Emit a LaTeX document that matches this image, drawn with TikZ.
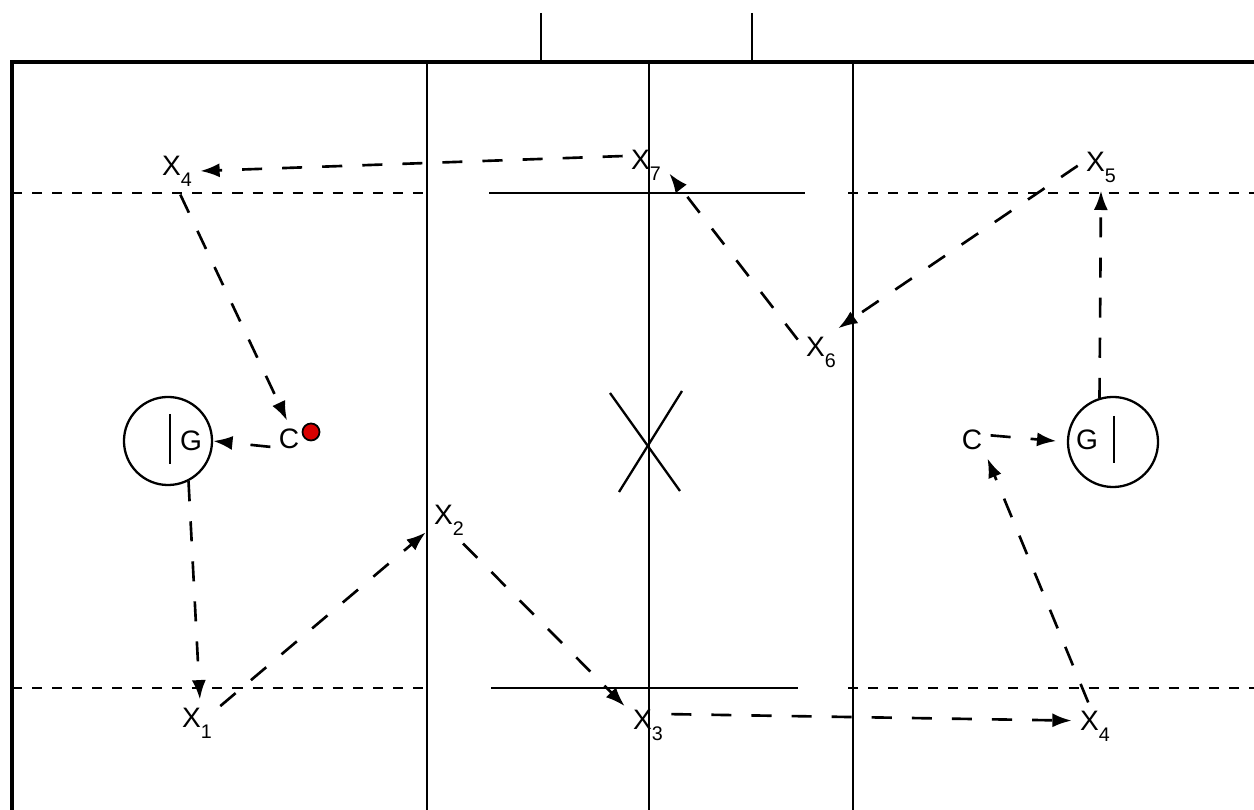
\documentclass[tikz,border=0pt]{standalone}
\usepackage{fontspec}
\setmainfont{Liberation Sans}
\usetikzlibrary{arrows.meta}
\newcommand{\sbx}[1]{\raisebox{-3.1pt}{\fontsize{5.6}{6.5}\selectfont #1}}

\begin{document}
\begin{tikzpicture}[
  x=0.01cm, y=-0.01cm,
  font=\fontsize{8}{9.5}\selectfont,
  pl/.style={inner sep=2.2pt},
  court/.style={line width=0.65pt},
  fline/.style={line width=0.7pt, dash pattern=on 2.85pt off 2.85pt},
  goal/.style={circle, draw, line width=0.65pt, inner sep=0pt},
  puck/.style={circle, draw, line width=0.5pt, fill=red!85!black, minimum size=0.17cm, inner sep=0pt},
  arr/.style={-{Latex[length=5.5pt,width=4pt]}, line width=0.75pt, dash pattern=on 5.7pt off 5.7pt}]
\useasboundingbox (0,0) rectangle (1254,810);
% field
\draw[line width=1.4pt] (12,810) -- (12,62) -- (1254,62);
\draw[court] (541,13) -- (541,62) (752,13) -- (752,62);
\draw[court] (427,62) -- (427,810) (649,62) -- (649,810) (853,62) -- (853,810);
\draw[fline] (12,193) -- (430,193) (848,193) -- (1254,193);
\draw[fline] (12,688) -- (430,688) (848,688) -- (1254,688);
\draw[court] (489,193) -- (805,193) (491,688) -- (798,688);
\draw[court] (610,393) -- (680,491) (682,391) -- (619,492);
% goals
\node[goal, minimum size=0.88cm] (goalL) at (168,441) {};
\node[goal, minimum size=0.90cm] (goalR) at (1113,442) {};
\draw[court] (170,414) -- (170,464) (1114,416) -- (1114,463);
\node[pl] (Ga) at (191,441) {G};
\node[pl] (Gb) at (1087,440) {G};
% players
\node[pl] (x4a) at (177,171) {X\sbx{4}};
\node[pl] (x7) at (646,165) {X\sbx{7}};
\node[pl] (x5) at (1101,167) {X\sbx{5}};
\node[pl] (x6) at (821,352) {X\sbx{6}};
\node[pl] (x2) at (449,520) {X\sbx{2}};
\node[pl] (x1) at (197,723) {X\sbx{1}};
\node[pl] (x3) at (648,725) {X\sbx{3}};
\node[pl] (x4b) at (1095,726) {X\sbx{4}};
\node[pl] (Ca) at (289,439) {C};
\node[pl] (Cb) at (972,440) {C};
\node[puck] (ball) at (311,432) {};
% passes
\draw[arr] (x7.159) -- (x4a.0);
\draw[arr] (x4a.-82) -- (Ca.96);
\draw[arr] (Ca.203) -- (goalL.east);
\draw[arr] (goalL.-63) -- (x1.83);
\draw[arr] (x1.36) -- (x2.208);
\draw[arr] (x2.-59) -- (x3.141);
\draw[arr] (x3.25) -- (x4b.167);
\draw[arr] (x4b.106) -- (Cb.-50);
\draw[arr, shorten >=3pt] (Cb.14) -- (goalR.west);
\draw[arr] (goalR.107) -- (x5.south);
\draw[arr] (x5.177) -- (x6.54);
\draw[arr] (x6.152) -- (x7.-20);
\end{tikzpicture}
\end{document}
